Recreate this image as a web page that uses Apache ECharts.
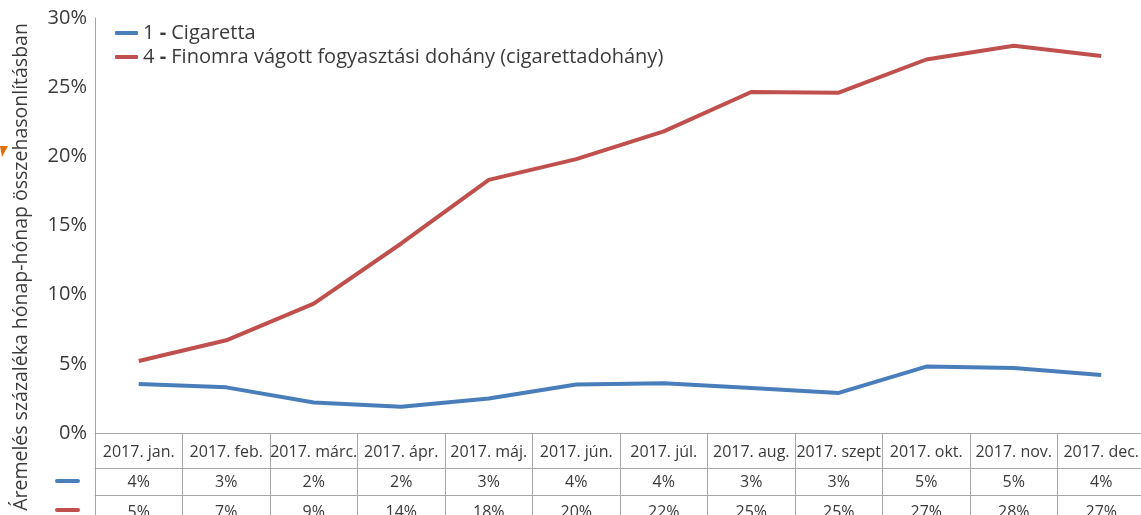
<!DOCTYPE html>
<html>
<head>
<meta charset="utf-8">
<script src="https://cdn.jsdelivr.net/npm/echarts@6/dist/echarts.min.js"></script>
<style>
html,body{margin:0;padding:0;background:#fff;overflow:hidden;}
#chart{width:1141px;height:515px;}
</style>
</head>
<body>
<div id="chart"></div>
<script>
const categories = ['2017. jan.','2017. feb.','2017. márc.','2017. ápr.','2017. máj.','2017. jún.','2017. júl.','2017. aug.','2017. szept','2017. okt.','2017. nov.','2017. dec.'];
const cigaretta = [3.55, 3.3, 2.2, 1.9, 2.5, 3.5, 3.6, 3.25, 2.9, 4.8, 4.7, 4.2];
const finomra = [5.2, 6.7, 9.35, 13.7, 18.3, 19.8, 21.8, 24.65, 24.6, 27.0, 28.0, 27.25];
const yTicks = [0, 5, 10, 15, 20, 25, 30];
const seriesNames = ['1 - Cigaretta', '4 - Finomra vágott fogyasztási dohány (cigarettadohány)'];
const yTitle = 'Áremelés százaléka hónap-hónap összehasonlításban';

const FONT = '"Open Sans"';
const TXT = '#3a3a3a';
const BORDER = '#a6a6a6';
const BLUE = '#4a7ebb';
const RED = '#c0504d';

const chart = echarts.init(document.getElementById('chart'), null, {renderer: 'canvas'});

function tableAxis(values, offset, margin, tickLen) {
  return {
    type: 'category',
    position: 'bottom',
    offset: offset,
    data: categories,
    boundaryGap: true,
    axisLine: {show: true, lineStyle: {color: BORDER, width: 1}},
    axisTick: {show: true, interval: 0, length: tickLen, lineStyle: {color: BORDER, width: 1}},
    axisLabel: {
      interval: 0, margin: margin, verticalAlign: 'middle', hideOverlap: false,
      fontFamily: FONT, fontSize: 16, color: TXT,
      formatter: (v, i) => values ? Math.round(values[i]) + '%' : v
    },
    splitLine: {show: false}
  };
}

chart.setOption({
  animation: false,
  textStyle: {fontFamily: FONT},
  grid: {left: 95, right: -4, top: 18, bottom: 82, containLabel: false, outerBoundsMode: 'none'},
  legend: {
    orient: 'vertical', left: 110, top: 18, itemGap: 4,
    itemWidth: 23, itemHeight: 4, icon: 'roundRect',
    data: seriesNames,
    textStyle: {fontFamily: FONT, fontSize: 20, color: TXT,
      rich: {b: {fontWeight: 'bold', fontSize: 20, fontFamily: FONT, color: TXT}}},
    formatter: name => name.replace(' - ', ' {b|-} ')
  },
  xAxis: [
    tableAxis(null, 0, 19, 35),
    tableAxis(cigaretta, 35, 14, 27),
    tableAxis(finomra, 62, 17, 30)
  ],
  yAxis: {
    type: 'value', min: yTicks[0], max: yTicks[yTicks.length - 1], interval: 5,
    axisLine: {show: true, lineStyle: {color: BORDER}},
    axisTick: {show: false},
    splitLine: {show: false},
    axisLabel: {formatter: '{value}%', fontFamily: FONT, fontSize: 20, color: TXT, margin: 8}
  },
  series: [
    {name: seriesNames[0], type: 'line', data: cigaretta, xAxisIndex: 0,
     symbol: 'none', lineStyle: {color: BLUE, width: 4}, itemStyle: {color: BLUE}},
    {name: seriesNames[1], type: 'line', data: finomra, xAxisIndex: 0,
     symbol: 'none', lineStyle: {color: RED, width: 4}, itemStyle: {color: RED}}
  ],
  graphic: [
    {type: 'text', x: 21, y: 267, rotation: Math.PI / 2,
     style: {text: yTitle, fontFamily: FONT, fontSize: 19.5, fill: TXT,
       align: 'center', verticalAlign: 'middle', textAlign: 'center', textVerticalAlign: 'middle'}},
    {type: 'rect', shape: {x: 55, y: 479, width: 25, height: 4, r: 2}, style: {fill: BLUE}},
    {type: 'rect', shape: {x: 55, y: 508, width: 25, height: 4, r: 2}, style: {fill: RED}},
    {type: 'polygon', shape: {points: [[0, 146], [8, 146], [2, 157]]}, style: {fill: '#e46c0a'}}
  ]
});
</script>
</body>
</html>
